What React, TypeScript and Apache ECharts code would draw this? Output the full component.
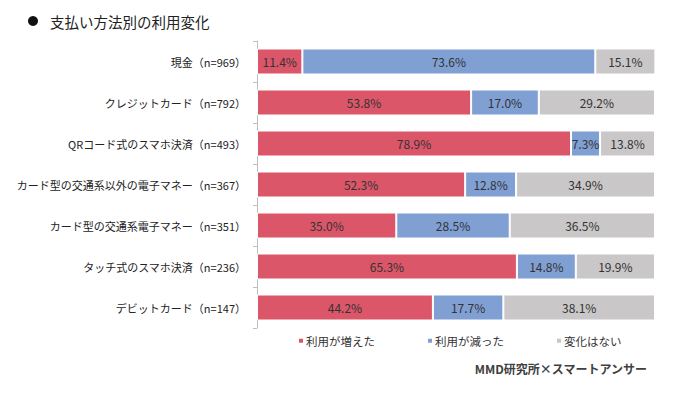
import React, { useEffect, useRef } from "react";
import * as echarts from "echarts";

const categories = [
  "現金（n=969）",
  "クレジットカード（n=792）",
  "QRコード式のスマホ決済（n=493）",
  "カード型の交通系以外の電子マネー（n=367）",
  "カード型の交通系電子マネー（n=351）",
  "タッチ式のスマホ決済（n=236）",
  "デビットカード（n=147）",
];
const increased = [11.4, 53.8, 78.9, 52.3, 35.0, 65.3, 44.2];
const decreased = [73.6, 17.0, 7.3, 12.8, 28.5, 14.8, 17.7];
const noChange = [15.1, 29.2, 13.8, 34.9, 36.5, 19.9, 38.1];
const seriesNames = ["利用が増えた", "利用が減った", "変化はない"];
const colors = ["#DB5669", "#809FD3", "#C9C7C7"];

const FONT = "'Noto Sans CJK JP', 'Noto Sans', sans-serif";

export default function App() {
  const ref = useRef<HTMLDivElement>(null);
  useEffect(() => {
    document.body.style.margin = "0";
    if (!ref.current) return;
    const chart = echarts.init(ref.current, undefined, { renderer: "svg" });
    const mk = (name: string, data: number[], color: string) => ({
      name,
      type: "bar",
      stack: "total",
      barWidth: 26,
      data,
      itemStyle: { color, borderColor: "#ffffff", borderWidth: 1 },
      label: {
        show: true,
        position: "inside",
        formatter: (p: any) => Number(p.value).toFixed(1) + "%",
        color: "#333333",
        fontSize: 12,
        fontFamily: FONT,
      },
    });
    chart.setOption({
      animation: false,
      textStyle: { fontFamily: FONT },
      grid: { left: 257, right: 25, top: 41, height: 287, containLabel: false },
      xAxis: {
        type: "value",
        min: 0,
        max: 100,
        show: false,
      },
      yAxis: {
        type: "category",
        inverse: true,
        data: categories,
        axisLine: { show: true, lineStyle: { color: "#BFBFBF", width: 1 } },
        axisTick: { show: true, length: 4, lineStyle: { color: "#BFBFBF" } },
        axisLabel: { color: "#222222", fontSize: 11, margin: 11, fontFamily: FONT },
        splitLine: { show: false },
      },
      legend: {
        left: 297,
        top: 335,
        padding: 0,
        itemWidth: 6,
        itemHeight: 6,
        itemGap: 51,
        icon: "rect",
        textStyle: {
          color: "#333333",
          fontSize: 11.5,
          fontFamily: FONT,
          padding: [0, 0, 0, -3],
        },
        data: seriesNames,
      },
      graphic: [
        { type: "circle", shape: { cx: 33, cy: 21, r: 5 }, style: { fill: "#111111" } },
        {
          type: "text",
          x: 50,
          y: 21,
          style: {
            text: "支払い方法別の利用変化",
            fill: "#222222",
            fontSize: 14.5,
            fontFamily: FONT,
            verticalAlign: "middle",
          },
        },
        {
          type: "text",
          x: 647,
          y: 368,
          style: {
            text: "MMD研究所×スマートアンサー",
            fill: "#404040",
            fontSize: 12,
            fontWeight: "bold",
            fontFamily: FONT,
            align: "right",
            verticalAlign: "middle",
          },
        },
      ],
      series: [
        mk(seriesNames[0], increased, colors[0]),
        mk(seriesNames[1], decreased, colors[1]),
        mk(seriesNames[2], noChange, colors[2]),
      ],
    });
    return () => chart.dispose();
  }, []);
  return <div ref={ref} style={{ width: 680, height: 393 }} />;
}
